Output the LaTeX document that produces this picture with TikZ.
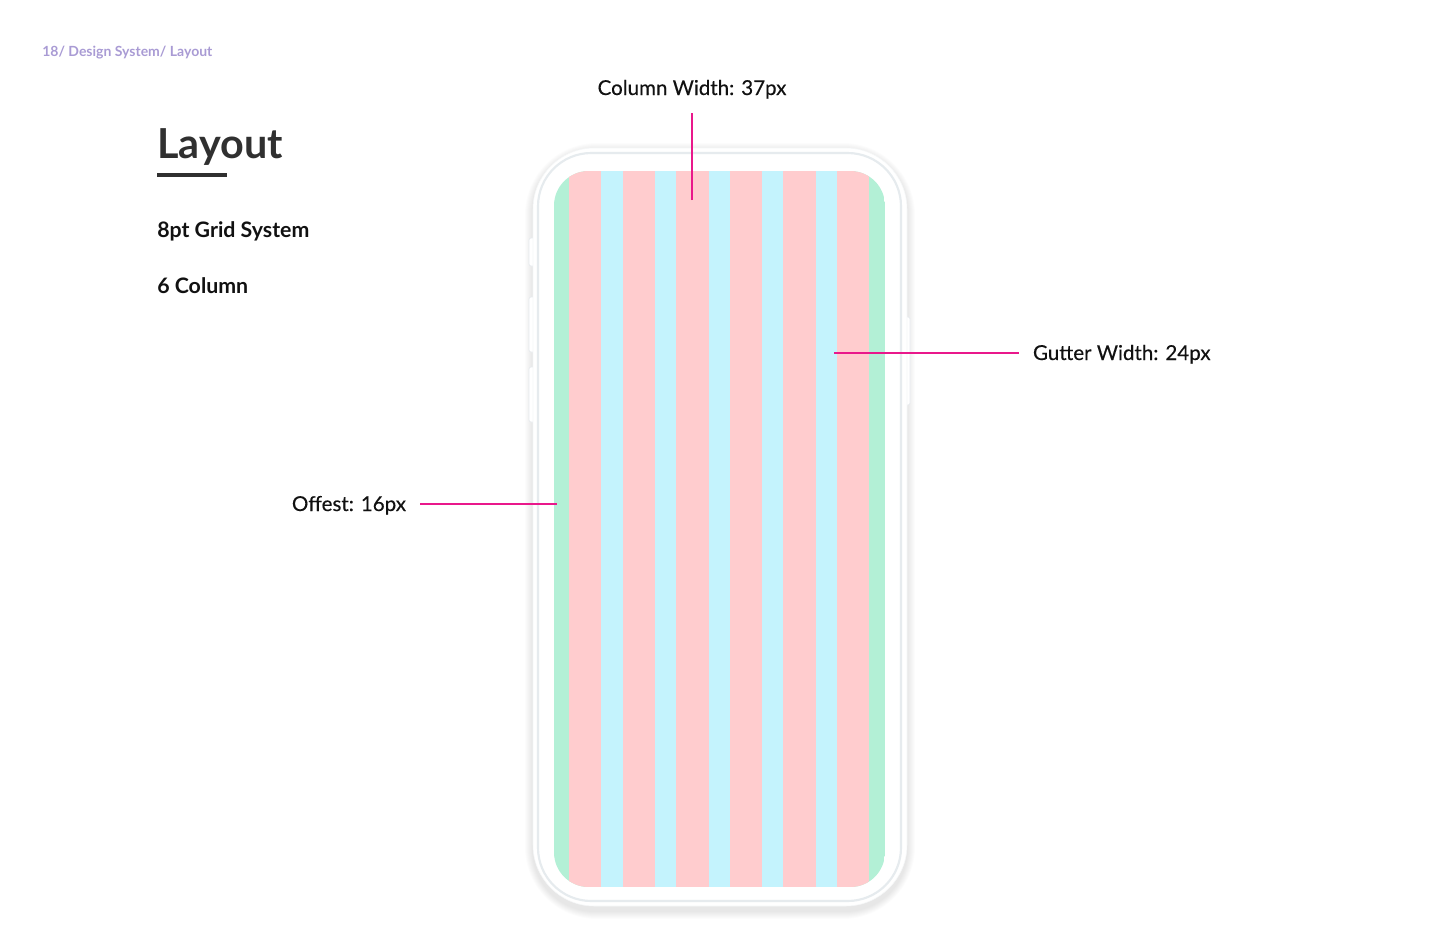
\documentclass[tikz,border=0pt]{standalone}
\usepackage{fontspec}
\setmainfont{Lato}
\newfontfamily\medfont[FakeBold=0.35]{Lato}
\usetikzlibrary{positioning}
\definecolor{mint}{HTML}{B3F0D6}
\definecolor{blush}{HTML}{FFCCCE}
\definecolor{sky}{HTML}{C4F3FD}
\definecolor{pinkline}{HTML}{E9188B}
\definecolor{framegray}{HTML}{E6EBEE}
\definecolor{lavender}{HTML}{A99BD4}
\definecolor{ink}{HTML}{111111}
\definecolor{titlegray}{HTML}{303030}

\tikzset{
  lbl/.style={font=\medfont\fontsize{15.4}{18}\selectfont, text=ink, inner sep=0pt, outer sep=10.5pt},
  side/.style={font=\bfseries\fontsize{16}{19}\selectfont, text=ink, inner sep=0pt},
  pinline/.style={draw=pinkline, line width=1.4pt},
  button/.style={fill=white, draw=framegray, line width=0.5pt, rounded corners=1.5pt}
}

\begin{document}
\begin{tikzpicture}[x=0.75pt, y=-0.75pt]
    \useasboundingbox (0,0) rectangle (1440,932);

    % header and left column
    \node[anchor=base west, inner sep=0pt, text=lavender, font=\bfseries\fontsize{10.5}{12}\selectfont] (crumb) at (42,56) {18/ Design System/ Layout};
    \node[anchor=base west, inner sep=0pt, text=titlegray, font=\bfseries\fontsize{31}{36}\selectfont] (title) at (157,158) {Layout};
    \draw[titlegray, line width=2.6pt] (157,175) -- (227,175);
    \node[side, anchor=base west] (grid) at (157,237) {8pt Grid System};
    \node[side, anchor=base west] (cols) at (157,293) {6 Column};

    % phone shadow
    \foreach \i in {1,...,8}
        \fill[black, opacity=0.01, rounded corners=46+\i] ({533-\i},{151-\i}) rectangle ({907+\i},{911+\i});

    % side buttons
    \draw[button] (529,238) rectangle (536,266);
    \draw[button] (529,297) rectangle (536,352);
    \draw[button] (529,367) rectangle (536,422);
    \draw[button] (904,317) rectangle (910,405);

    % phone body
    \filldraw[fill=white, draw=framegray!40, rounded corners=46] (533,148) rectangle (907,906);
    \draw[framegray, line width=1.6pt, rounded corners=40] (538,153) rectangle (901,901);

    % screen grid
    \begin{scope}
        \clip[rounded corners=26] (554,171) rectangle (885,887);
        \fill[mint] (554,171) rectangle (885,887);
        \foreach \c in {0,...,5}
            \fill[blush] ({569+53.6*\c},171) rectangle ({601.4+53.6*\c},887);
        \foreach \g in {0,...,4}
            \fill[sky] ({601.4+53.6*\g},171) rectangle ({622.6+53.6*\g},887);
    \end{scope}

    % callouts
    \coordinate (colpin) at (692,200);
    \coordinate (gutpin) at (834,353);
    \coordinate (offpin) at (557,504);
    \node[lbl, anchor=base] (colw) at (692,95) {Column Width: 37px};
    \node[lbl, anchor=base west] (gutw) at (1019,360) {Gutter Width: 24px};
    \node[lbl, anchor=base east] (offw) at (420,511) {Offest: 16px};

    \draw[pinline] (colpin) -- (colpin |- colw.south);
    \draw[pinline] (gutpin) -- (gutpin -| gutw.west);
    \draw[pinline] (offpin -| offw.east) -- (offpin);

\end{tikzpicture}
\end{document}
